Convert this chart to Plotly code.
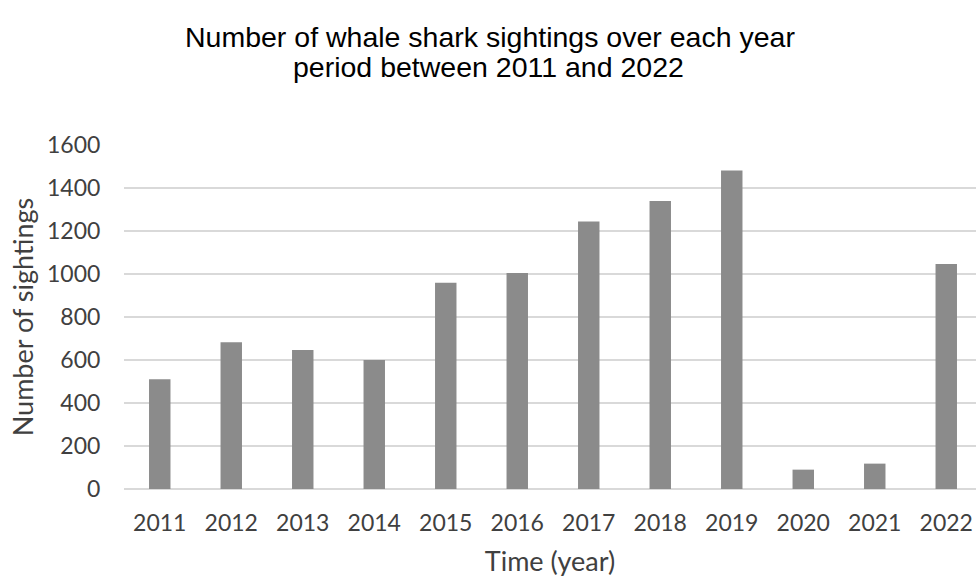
import plotly.graph_objects as go

years = ["2011", "2012", "2013", "2014", "2015", "2016", "2017", "2018", "2019", "2020", "2021", "2022"]
sightings = [510, 682, 646, 600, 959, 1005, 1244, 1339, 1481, 90, 118, 1046]
y_ticks = [0, 200, 400, 600, 800, 1000, 1200, 1400, 1600]

title_line1 = "Number of whale shark sightings over each year"
title_line2 = "period between 2011 and 2022"

fig = go.Figure(
    go.Bar(
        x=years,
        y=sightings,
        width=0.3,
        marker=dict(color="#8b8b8b", line=dict(width=0)),
    )
)

axis_font = dict(family="Lato, 'Open Sans', sans-serif", size=23, color="#404040")
title_font = dict(family="'Liberation Sans', Arial, sans-serif", size=28.5, color="#000000")

fig.update_layout(
    width=976,
    height=577,
    paper_bgcolor="white",
    plot_bgcolor="white",
    margin=dict(l=124, r=0, t=145, b=88),
    showlegend=False,
    title=dict(
        text=title_line1,
        x=0.502,
        xanchor="center",
        xref="container",
        y=1 - 37 / 577,
        yref="container",
        yanchor="middle",
        font=title_font,
    ),
    annotations=[
        dict(
            text=title_line2,
            x=0.502,
            xref="paper",
            xanchor="center",
            y=1 - 67 / 577,
            yref="container" if False else "paper",
            yanchor="middle",
            showarrow=False,
            font=title_font,
        )
    ],
    xaxis=dict(
        type="category",
        range=[-0.5, 11.416],
        showgrid=False,
        showline=False,
        zeroline=False,
        ticks="outside",
        ticklen=13,
        tickcolor="rgba(0,0,0,0)",
        tickfont=axis_font,
        title=dict(text="Time (year)", font=dict(family="Lato, 'Open Sans', sans-serif", size=27, color="#404040"), standoff=18),
    ),
    yaxis=dict(
        range=[0, 1600],
        tickvals=y_ticks,
        showgrid=True,
        gridcolor="#d9d9d9",
        gridwidth=1.5,
        zeroline=True,
        zerolinecolor="#d9d9d9",
        zerolinewidth=1.5,
        showline=False,
        ticks="outside",
        ticklen=18,
        tickcolor="rgba(0,0,0,0)",
        tickfont=axis_font,
        title=dict(text="Number of sightings", font=dict(family="Lato, 'Open Sans', sans-serif", size=27, color="#404040"), standoff=5),
    ),
)

# place second title line in paper coordinates matching pixel row 67
plot_top, plot_bottom = 145, 577 - 88
fig.layout.annotations[0].y = (plot_bottom - 67) / (plot_bottom - plot_top)
fig.layout.annotations[0].x = (488 - 124) / (976 - 124)

fig.write_html("out.html")
